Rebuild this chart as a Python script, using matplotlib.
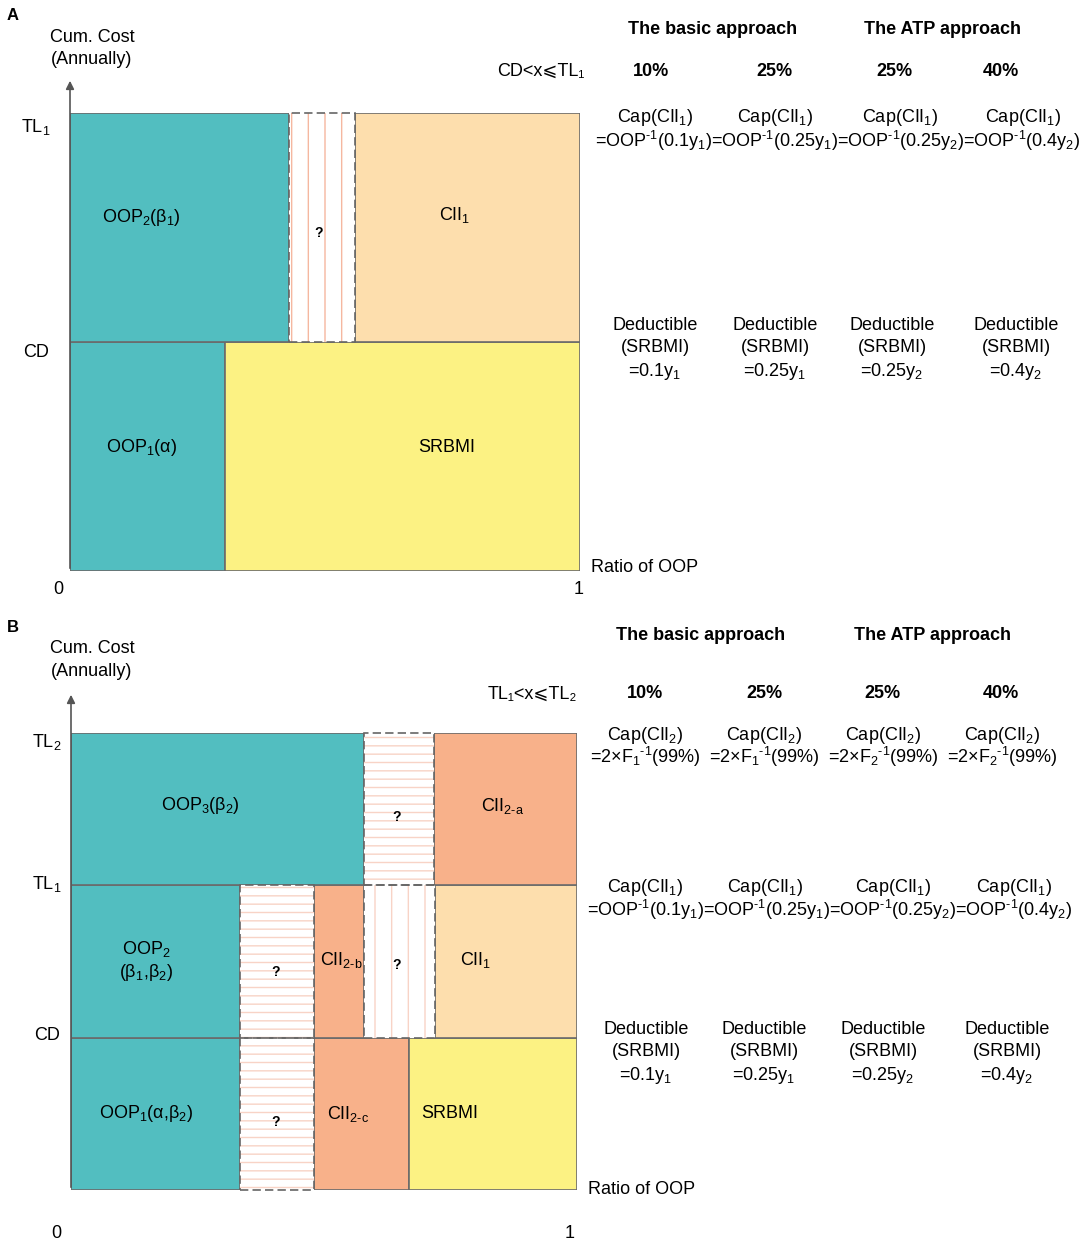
import matplotlib
matplotlib.use("Agg")
import matplotlib.pyplot as plt
from matplotlib.patches import Rectangle

plt.rcParams['font.family'] = ['Liberation Sans', 'DejaVu Sans']
plt.rcParams['mathtext.fontset'] = 'custom'
plt.rcParams['mathtext.rm'] = 'Liberation Sans'
plt.rcParams['mathtext.it'] = 'Liberation Sans'
plt.rcParams['mathtext.bf'] = 'Liberation Sans:bold'
plt.rcParams['hatch.linewidth'] = 1.0

W, H = 1084, 1244

TEAL = '#52BEC0'
PEACH = '#FDDEAD'
SALMON = '#F8B18A'
YELLOW = '#FCF283'

# ---- panel A: cells per cost band (label, x0, x1, colour); None colour = unknown/hatched
a_rows = [
    [(r'OOP$_1$(α)', 0.0, 0.304, TEAL), ('SRBMI', 0.304, 1.0, YELLOW)],
    [(r'OOP$_2$(β$_1$)', 0.0, 0.429, TEAL), ('?', 0.429, 0.559, None), (r'CII$_1$', 0.559, 1.0, PEACH)],
]
a_levels = ['CD', r'TL$_1$']
a_range = 'CD<x⩽TL₁'

# ---- panel B
b_rows = [
    [(r'OOP$_1$(α,β$_2$)', 0.0, 0.334, TEAL), ('?', 0.334, 0.481, None),
     (r'CII$_{2\text{-}c}$', 0.481, 0.667, SALMON), ('SRBMI', 0.667, 1.0, YELLOW)],
    [('OOP$_2$\n(β$_1$,β$_2$)', 0.0, 0.334, TEAL), ('?', 0.334, 0.481, None),
     (r'CII$_{2\text{-}b}$', 0.481, 0.579, SALMON), ('?', 0.579, 0.72, None),
     (r'CII$_1$', 0.72, 1.0, PEACH)],
    [(r'OOP$_3$(β$_2$)', 0.0, 0.579, TEAL), ('?', 0.579, 0.717, None),
     (r'CII$_{2\text{-}a}$', 0.717, 1.0, SALMON)],
]
b_levels = ['CD', r'TL$_1$', r'TL$_2$']
b_range = 'TL₁<x⩽TL₂'

approaches = ['The basic approach', 'The ATP approach']
rates = ['10%', '25%', '25%', '40%']
a_cap1 = [r'=OOP$^{\text{-}1}$(0.1y$_1$)', r'=OOP$^{\text{-}1}$(0.25y$_1$)',
          r'=OOP$^{\text{-}1}$(0.25y$_2$)', r'=OOP$^{\text{-}1}$(0.4y$_2$)']
cap2 = [r'=2×F$_1$$^{\text{-}1}$(99%)', r'=2×F$_1$$^{\text{-}1}$(99%)',
        r'=2×F$_2$$^{\text{-}1}$(99%)', r'=2×F$_2$$^{\text{-}1}$(99%)']
deduct = [r'=0.1y$_1$', r'=0.25y$_1$', r'=0.25y$_2$', r'=0.4y$_2$']


def px(x, y):
    return x / W, 1 - y / H


def ftext(x, y, s, **kw):
    kw.setdefault('ha', 'center')
    kw.setdefault('va', 'center')
    kw.setdefault('fontsize', 13)
    fig.text(*px(x, y), s, **kw)


fig = plt.figure(figsize=(W / 100, H / 100), dpi=100)


def panel(left, right, top, bottom, rows, hatch_col, orient, arrow_top):
    ax = fig.add_axes([left / W, 1 - bottom / H, (right - left) / W, (bottom - top) / H])
    ax.set_xlim(0, 1)
    ax.set_ylim(0, len(rows))
    ax.axis('off')
    for i, row in enumerate(rows):
        for k, (lab, x0, x1, col) in enumerate(row):
            if col is None:
                h = orient[(i, k)] if isinstance(orient, dict) else orient
                ax.add_patch(Rectangle((x0, i), x1 - x0, 1, facecolor='white',
                                       edgecolor=hatch_col, hatch=h, lw=0, zorder=2))
                ax.add_patch(Rectangle((x0, i), x1 - x0, 1, fill=False, edgecolor='#666666',
                                       lw=1.2, ls=(0, (5, 2.5)), zorder=4, clip_on=False))
            else:
                ax.add_patch(Rectangle((x0, i), x1 - x0, 1, facecolor=col,
                                       edgecolor='#6b6b6b', lw=1.2, zorder=1))
    ytop = len(rows) + (top - arrow_top) / (bottom - top) * len(rows)
    ax.annotate('', xy=(0, ytop), xytext=(0, 0),
                arrowprops=dict(arrowstyle='-|>', color='#555555', lw=1.2, mutation_scale=12),
                annotation_clip=False, zorder=5)
    return ax


axA = panel(70, 580, 113, 571, a_rows, '#F5B7A0', '|', 78)
axB = panel(71, 577, 733, 1190, b_rows, '#F8D3C6',
            {(0, 1): '--', (1, 1): '--', (1, 3): '|', (2, 1): '--'}, 692)

# labels inside cells (pixel anchors)
a_lab_pos = [[(141, 448), (447, 447)], [(141, 218), (319, 233), (455, 215)]]
b_lab_pos = [[(146, 1113), (276, 1122), (348, 1114), (450, 1113)],
             [(146, 961), (276, 972), (341, 960), (397, 965), (476, 960)],
             [(200, 806), (397, 817), (503, 806)]]
for rows, pos in ((a_rows, a_lab_pos), (b_rows, b_lab_pos)):
    for row, prow in zip(rows, pos):
        for (lab, x0, x1, col), (x, y) in zip(row, prow):
            if lab == '?':
                ftext(x, y, '?', fontsize=10, fontweight='bold')
            else:
                ftext(x, y, lab, linespacing=1.25)

# panel letters
ftext(13, 16, 'A', fontsize=12, fontweight='bold')
ftext(13, 628, 'B', fontsize=12, fontweight='bold')

# axis texts
for yb in (37, 649):
    ftext(92, yb, 'Cum. Cost')
    ftext(92, yb + 23, '(Annually)')
ftext(36, 352, a_levels[0])
ftext(36, 127, a_levels[1])
ftext(47, 1036, b_levels[0])
ftext(47, 884, b_levels[1])
ftext(47, 742, b_levels[2])
ftext(58, 590, '0')
ftext(579, 590, '1')
ftext(56, 1234, '0')
ftext(570, 1234, '1')
ftext(591, 568, 'Ratio of OOP', ha='left')
ftext(588, 1190, 'Ratio of OOP', ha='left')

# right side text, panel A
ftext(713, 29, approaches[0], fontweight='bold')
ftext(943, 29, approaches[1], fontweight='bold')
ftext(541, 71, a_range)
for x, r in zip([651, 774, 894, 1001], rates):
    ftext(x, 71, r, fontweight='bold')
for x in [655, 775, 900, 1023]:
    ftext(x, 118, r'Cap(CII$_1$)')
ftext(838, 141, ''.join(a_cap1))
for x, d in zip([655, 775, 892, 1016], deduct):
    ftext(x, 326, 'Deductible')
    ftext(x, 348, '(SRBMI)')
    ftext(x, 371, d)

# right side text, panel B
ftext(701, 636, approaches[0], fontweight='bold')
ftext(932, 636, approaches[1], fontweight='bold')
ftext(532, 694, b_range)
for x, r in zip([645, 764, 882, 1001], rates):
    ftext(x, 694, r, fontweight='bold')
for x, c in zip([645, 764, 883, 1002], cap2):
    ftext(x, 735, r'Cap(CII$_2$)')
    ftext(x, 757, c)
for x in [645, 765, 893, 1014]:
    ftext(x, 888, r'Cap(CII$_1$)')
ftext(830, 910, ''.join(a_cap1))
for x, d in zip([646, 764, 883, 1007], deduct):
    ftext(x, 1029, 'Deductible')
    ftext(x, 1052, '(SRBMI)')
    ftext(x, 1075, d)

fig.savefig('out.png', dpi=100)
